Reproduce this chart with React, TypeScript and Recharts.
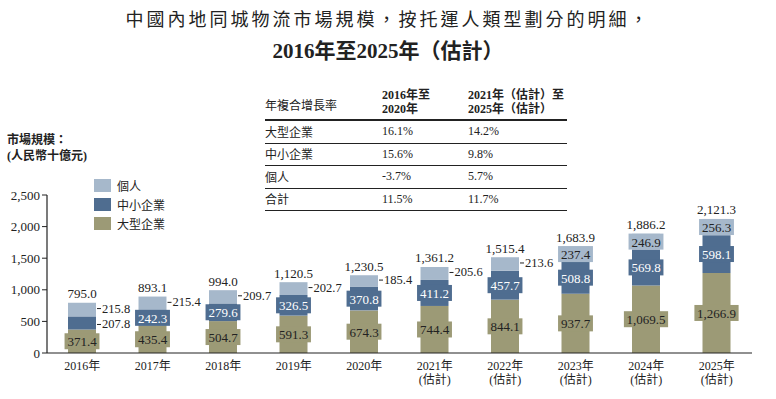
import React from 'react';
import { BarChart, Bar, XAxis, YAxis, LabelList } from 'recharts';

const years = ['2016年', '2017年', '2018年', '2019年', '2020年', '2021年', '2022年', '2023年', '2024年', '2025年'];
const estimated = [false, false, false, false, false, true, true, true, true, true];
const largeEnterprise = [371.4, 435.4, 504.7, 591.3, 674.3, 744.4, 844.1, 937.7, 1069.5, 1266.9];
const smeEnterprise = [207.8, 242.3, 279.6, 326.5, 370.8, 411.2, 457.7, 508.8, 569.8, 598.1];
const individual = [215.8, 215.4, 209.7, 202.7, 185.4, 205.6, 213.6, 237.4, 246.9, 256.3];
const totals = [795.0, 893.1, 994.0, 1120.5, 1230.5, 1361.2, 1515.4, 1683.9, 1886.2, 2121.3];
const yTicks = [0, 500, 1000, 1500, 2000, 2500];

const cagrRows = ['大型企業', '中小企業', '個人', '合計'];
const cagr2016to2020 = ['16.1%', '15.6%', '-3.7%', '11.5%'];
const cagr2021to2025 = ['14.2%', '9.8%', '5.7%', '11.7%'];

const COLORS = { large: '#9c9a76', sme: '#4f6d90', indiv: '#a6b8cb' };
const SERIF = '"Liberation Serif", "Noto Sans CJK TC", serif';
const TEXT = '#222';

const data = years.map((year, i) => ({
  year,
  large: largeEnterprise[i],
  sme: smeEnterprise[i],
  indiv: individual[i],
  total: totals[i],
}));

const fmt = (v: number) => v.toLocaleString('en-US', { minimumFractionDigits: 1, maximumFractionDigits: 1 });

const textWidth = (s: string) => {
  let w = 0;
  for (const ch of s) w += /[0-9]/.test(ch) ? 6.2 : 3.1;
  return w;
};

// label drawn on a box of the bar colour, or outside on the right with a small dash
const segmentLabel = (fill: string, textColor: string, outside: (i: number) => boolean, nudge = 0) => (props: any) => {
  const { x, y, width, height, value, index } = props;
  const cx = Number(x) + Number(width) / 2;
  const cy = Number(y) + Number(height) / 2;
  const s = fmt(Number(value));
  if (outside(index)) {
    const rx = Number(x) + Number(width);
    const ly = cy + nudge;
    return (
      <g>
        <line x1={rx + 1} x2={rx + 5} y1={ly} y2={ly} stroke={TEXT} strokeWidth={1} />
        <text x={rx + 6} y={ly} dominantBaseline="central" fontSize={12.5} fontFamily={SERIF} fill={TEXT}>{s}</text>
      </g>
    );
  }
  const bw = textWidth(s) + 7;
  return (
    <g>
      <rect x={cx - bw / 2} y={cy - 8} width={bw} height={16} fill={fill} />
      <text x={cx} y={cy + 0.5} textAnchor="middle" dominantBaseline="central" fontSize={13} fontFamily={SERIF} fill={textColor}>{s}</text>
    </g>
  );
};

const totalLabel = (props: any) => {
  const { x, y, width, value } = props;
  return (
    <text x={Number(x) + Number(width) / 2} y={Number(y) - 9} textAnchor="middle" dominantBaseline="central" fontSize={13} fontFamily={SERIF} fill={TEXT}>
      {fmt(Number(value))}
    </text>
  );
};

const YearTick = (props: any) => {
  const { x, y, payload, index } = props;
  return (
    <g>
      <text x={x} y={y + 5} textAnchor="middle" dominantBaseline="central" fontSize={12} fontFamily={SERIF} fill={TEXT}>{payload.value}</text>
      {estimated[index] && (
        <text x={x} y={y + 19} textAnchor="middle" dominantBaseline="central" fontSize={12} fontFamily={SERIF} fill={TEXT}>(估計)</text>
      )}
    </g>
  );
};

const legendItems = [
  { label: '個人', color: COLORS.indiv },
  { label: '中小企業', color: COLORS.sme },
  { label: '大型企業', color: COLORS.large },
];

export default function App() {
  return (
    <div style={{ position: 'fixed', left: 0, top: 0, width: 776, height: 399, background: '#fff', fontFamily: SERIF, color: TEXT }}>
      <div style={{ position: 'absolute', top: 5, left: 0, width: 776, textAlign: 'center', fontSize: 18, letterSpacing: 3, fontFamily: '"Noto Sans CJK TC", sans-serif' }}>
        中國內地同城物流市場規模，按托運人類型劃分的明細，
      </div>
      <div style={{ position: 'absolute', top: 34, left: 0, width: 776, textAlign: 'center', fontSize: 21, fontWeight: 'bold' }}>
        2016年至2025年（估計）
      </div>

      <div style={{ position: 'absolute', top: 87, left: 265, width: 302, fontSize: 12 }}>
        <div style={{ display: 'flex', alignItems: 'flex-end', height: 32, borderBottom: '2px solid #222' }}>
          <div style={{ width: 117, paddingBottom: 5 }}>年複合增長率</div>
          <div style={{ width: 86, paddingBottom: 3, fontWeight: 'bold', lineHeight: '14px' }}>2016年至<br />2020年</div>
          <div style={{ flex: 1, paddingBottom: 3, fontWeight: 'bold', lineHeight: '14px' }}>2021年（估計）至<br />2025年（估計）</div>
        </div>
        {cagrRows.map((r, i) => (
          <div key={r} style={{ display: 'flex', alignItems: 'center', height: 21.5, borderBottom: '1px solid #222' }}>
            <div style={{ width: 117 }}>{r}</div>
            <div style={{ width: 86 }}>{cagr2016to2020[i]}</div>
            <div style={{ flex: 1 }}>{cagr2021to2025[i]}</div>
          </div>
        ))}
      </div>

      <div style={{ position: 'absolute', top: 132, left: 7, fontSize: 12, fontWeight: 'bold', lineHeight: '16px' }}>
        市場規模：<br />(人民幣十億元)
      </div>

      <div style={{ position: 'absolute', top: 176, left: 94 }}>
        {legendItems.map((it) => (
          <div key={it.label} style={{ display: 'flex', alignItems: 'center', height: 19 }}>
            <span style={{ display: 'inline-block', width: 17, height: 13, background: it.color, marginRight: 6 }} />
            <span style={{ fontSize: 12, color: TEXT }}>{it.label}</span>
          </div>
        ))}
      </div>

      <BarChart width={776} height={399} data={data} margin={{ top: 195, right: 24, bottom: 16, left: 0 }}>
        <XAxis dataKey="year" height={30} axisLine={{ stroke: TEXT, strokeWidth: 1.2 }} tickLine={false} tick={<YearTick />} interval={0} />
        <YAxis
          width={47}
          domain={[0, 2500]}
          ticks={yTicks}
          axisLine={{ stroke: TEXT, strokeWidth: 1.2 }}
          tickLine={{ stroke: TEXT }}
          tickSize={5}
          tickFormatter={(v: number) => v.toLocaleString('en-US')}
          tick={{ fontSize: 13, fontFamily: SERIF, fill: TEXT }}
        />
        <Bar dataKey="large" stackId="a" fill={COLORS.large} barSize={28} isAnimationActive={false}>
          <LabelList dataKey="large" content={segmentLabel(COLORS.large, TEXT, () => false)} />
        </Bar>
        <Bar dataKey="sme" stackId="a" fill={COLORS.sme} barSize={28} isAnimationActive={false}>
          <LabelList dataKey="sme" content={segmentLabel(COLORS.sme, '#fff', (i) => i === 0, 1.5)} />
        </Bar>
        <Bar dataKey="indiv" stackId="a" fill={COLORS.indiv} barSize={28} isAnimationActive={false}>
          <LabelList dataKey="indiv" content={segmentLabel(COLORS.indiv, TEXT, (i) => i < 7, -1)} />
          <LabelList dataKey="total" content={totalLabel} />
        </Bar>
      </BarChart>
    </div>
  );
}
